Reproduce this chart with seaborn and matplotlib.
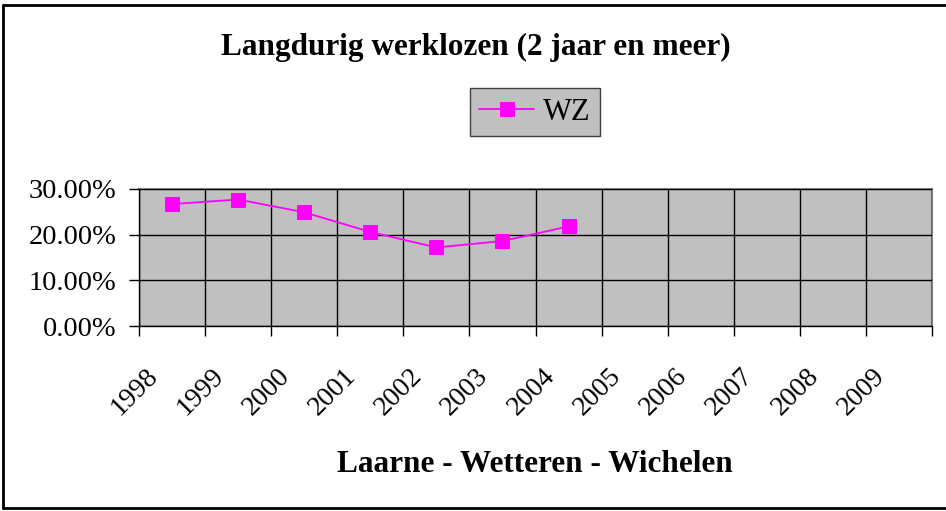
import numpy as np
import pandas as pd
import matplotlib
matplotlib.use("Agg")
import matplotlib.pyplot as plt
from matplotlib.ticker import PercentFormatter, FixedLocator
from matplotlib.lines import Line2D
from matplotlib.transforms import ScaledTranslation
import seaborn as sns

# Long-term unemployed (2 years and more), share per year
years = [1998, 1999, 2000, 2001, 2002, 2003, 2004, 2005, 2006, 2007, 2008, 2009]
wz_years = [1998, 1999, 2000, 2001, 2002, 2003, 2004]
wz_values = [26.7, 27.7, 24.9, 20.6, 17.2, 18.6, 21.8]
series_name = "WZ"
title = "Langdurig werklozen (2 jaar en meer)"
xlabel = "Laarne - Wetteren - Wichelen"
y_ticks = [0, 10, 20, 30]

sns.set_style("white")
plt.rcParams["font.family"] = ["Liberation Serif", "DejaVu Serif"]
plt.rcParams["text.color"] = "black"
plt.rcParams["xtick.labelcolor"] = "black"
plt.rcParams["ytick.labelcolor"] = "black"

W, H = 946, 511
fig = plt.figure(figsize=(W / 100, H / 100), dpi=100)
fig.patch.set_facecolor("white")

left, right, top, bottom = 139, 932, 189, 326
ax = fig.add_axes([left / W, 1 - bottom / H, (right - left) / W, (bottom - top) / H])
ax.set_facecolor("#C0C0C0")

df = pd.DataFrame({"year": wz_years, "value": wz_values})
sns.lineplot(data=df, x="year", y="value", ax=ax, color="#FF00FF",
             marker="s", markersize=9.5, markeredgecolor="#FF00FF",
             linewidth=1.3, label=series_name)

ax.set_xlim(years[0] - 0.5, years[-1] + 0.5)
ax.set_ylim(0, 30)

# Category labels at centres, tick marks and grid at category boundaries
ax.xaxis.set_major_locator(FixedLocator(years))
ax.set_xticklabels([str(y) for y in years])
ax.xaxis.set_minor_locator(FixedLocator([y - 0.5 for y in years] + [years[-1] + 0.5]))
ax.tick_params(axis="x", which="major", length=0, pad=27, labelsize=20)
ax.tick_params(axis="x", which="minor", length=7, width=1, color="black", direction="out", bottom=True)
shift = ScaledTranslation(-9 / 100, 0, fig.dpi_scale_trans)
for lbl in ax.get_xticklabels():
    lbl.set_rotation(45)
    lbl.set_ha("right")
    lbl.set_va("top")
    lbl.set_transform(lbl.get_transform() + shift)

ax.set_yticks(y_ticks)
ax.yaxis.set_major_formatter(PercentFormatter(decimals=2))
ax.tick_params(axis="y", which="major", length=7, width=1, color="black",
               direction="out", left=True, pad=9, labelsize=20.5)

ax.grid(False)
ax.grid(True, axis="y", which="major", color="black", linewidth=1)
ax.grid(True, axis="x", which="minor", color="black", linewidth=1)
ax.set_axisbelow(False)
for ln in ax.get_lines():
    ln.set_zorder(5)

for s in ["left", "bottom"]:
    ax.spines[s].set_color("black")
    ax.spines[s].set_linewidth(1)
for s in ["top", "right"]:
    ax.spines[s].set_color("#808080")
    ax.spines[s].set_linewidth(1.5)

ax.set_xlabel("")
ax.set_ylabel("")

fig.text(476 / W, 1 - 47 / H, title, ha="center", va="center",
         fontsize=22.5, fontweight="bold")
fig.text(535 / W, 1 - 464 / H, xlabel, ha="center", va="center",
         fontsize=22.5, fontweight="bold")

leg = ax.legend(loc="center", bbox_to_anchor=(535 / W, 1 - 112 / H),
                bbox_transform=fig.transFigure, fontsize=22, frameon=True,
                fancybox=False, framealpha=1, facecolor="#C0C0C0",
                edgecolor="#404040", handlelength=1.8, borderpad=0.3,
                handletextpad=0.3)
leg.get_frame().set_linewidth(1)

# Outer chart border
for xs, ys in [([3 / W, 3 / W], [3 / H, 1 - 5 / H]),
               ([3 / W, 1.0], [1 - 5 / H, 1 - 5 / H]),
               ([3 / W, 1.0], [3 / H, 3 / H])]:
    fig.add_artist(Line2D(xs, ys, color="black", linewidth=2, transform=fig.transFigure))

fig.savefig("out.png", dpi=100)
